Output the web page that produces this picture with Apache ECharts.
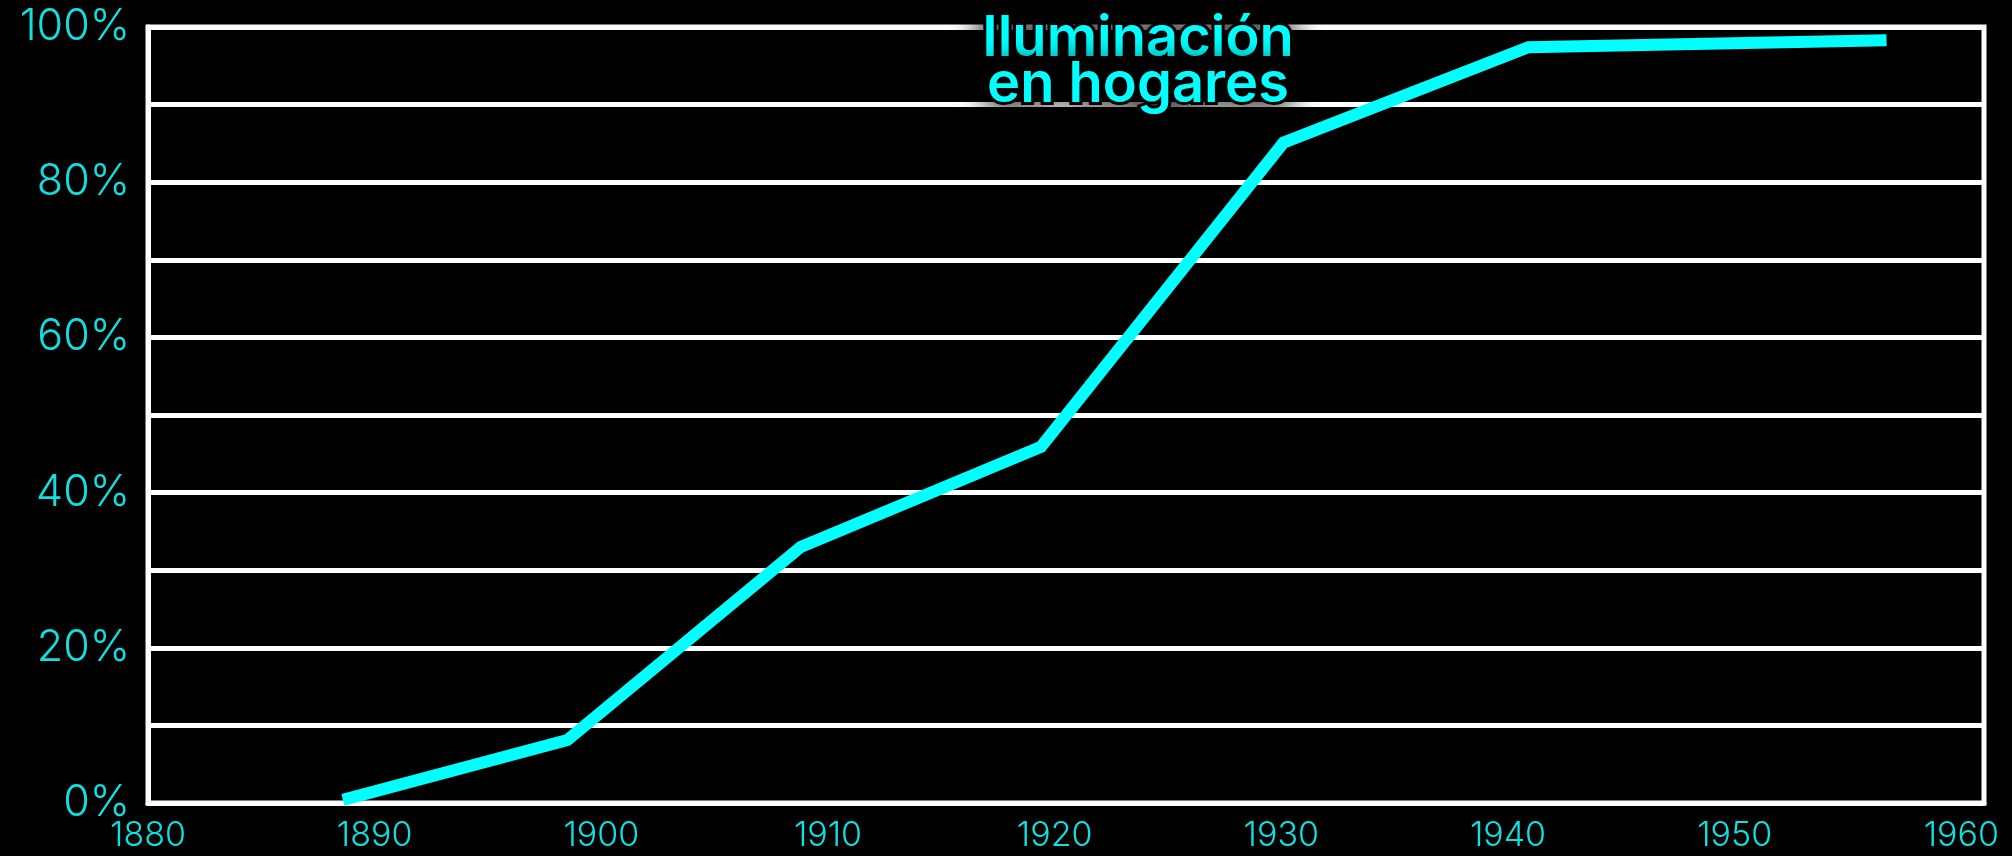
<!DOCTYPE html>
<html>
<head>
<meta charset="utf-8">
<script src="https://cdn.jsdelivr.net/npm/echarts@6/dist/echarts.min.js"></script>
<style>
html,body{margin:0;padding:0;background:#000;}
#chart{width:2012px;height:856px;}
</style>
</head>
<body>
<div id="chart"></div>
<script>
// Data (years, share of homes with electric lighting)
const years = [1888.6, 1898.5, 1908.8, 1919.4, 1930.1, 1940.9, 1956.7];
const share = [0.004, 0.081, 0.330, 0.459, 0.851, 0.974, 0.983];
const titleText = 'Iluminación\nen hogares';
const xTicks = [1880, 1890, 1900, 1910, 1920, 1930, 1940, 1950, 1960];

const cyan = '#00ffff';
const labelCyan = '#10e0e0';
const font = 'Inter';

const chart = echarts.init(document.getElementById('chart'));
chart.setOption({
  backgroundColor: '#000',
  animation: false,
  title: {
    text: titleText,
    left: 1133,
    top: 11,
    textAlign: 'center',
    textStyle: {
      color: cyan,
      fontFamily: font,
      fontWeight: 600,
      fontSize: 56,
      lineHeight: 46,
      textBorderColor: '#000',
      textBorderWidth: 6,
      textShadowColor: '#000',
      textShadowBlur: 30
    },
    z: 10
  },
  grid: {
    left: 148, right: 28, top: 27, bottom: 53,
    show: true,
    borderColor: '#fff',
    borderWidth: 5,
    backgroundColor: '#000'
  },
  xAxis: {
    type: 'value',
    min: xTicks[0],
    max: 1961,
    interval: 10,
    axisLine: {show: true, lineStyle: {color: '#fff', width: 5}},
    axisTick: {show: false},
    splitLine: {show: false},
    axisLabel: {
      color: labelCyan,
      fontFamily: font,
      fontWeight: 300,
      fontSize: 34,
      margin: 16,
      showMaxLabel: false,
      formatter: v => xTicks.includes(Math.round(v)) && Math.abs(v - Math.round(v)) < 1e-6 ? String(v) : ''
    }
  },
  yAxis: {
    type: 'value',
    min: 0,
    max: 1,
    interval: 0.2,
    axisLine: {show: true, lineStyle: {color: '#fff', width: 5}},
    axisTick: {show: false},
    splitLine: {show: true, lineStyle: {color: '#fff', width: 5}},
    minorTick: {show: false, splitNumber: 2},
    minorSplitLine: {show: true, lineStyle: {color: '#fff', width: 5}},
    axisLabel: {
      color: labelCyan,
      fontFamily: font,
      fontWeight: 300,
      fontSize: 43,
      margin: 18,
      formatter: v => Math.round(v * 100) + '%'
    }
  },
  series: [{
    type: 'line',
    data: years.map((y, i) => [y, share[i]]),
    symbol: 'none',
    lineStyle: {color: cyan, width: 12, cap: 'butt', join: 'miter'},
    z: 5
  }]
});
</script>
</body>
</html>
